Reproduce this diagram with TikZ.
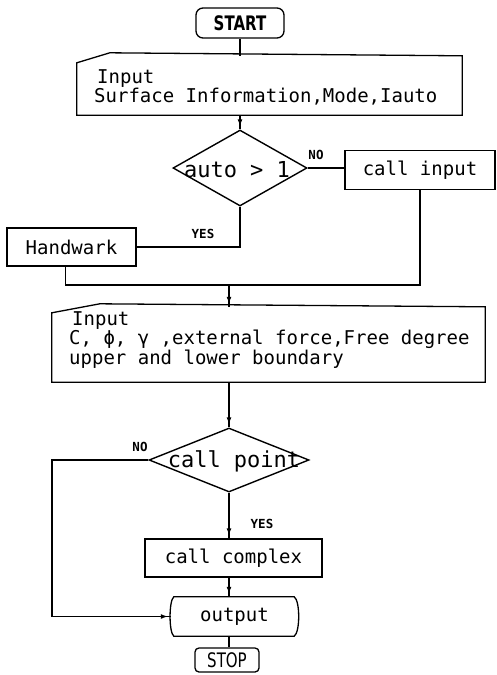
\documentclass[tikz,border=0pt]{standalone}
\usepackage{fontspec}
\setmonofont{DejaVu Sans Mono}
\newfontfamily\termfont[FakeStretch=0.75]{DejaVu Sans}
\usetikzlibrary{shapes.geometric,arrows.meta,decorations.markings,calc}
\newcommand\mytxt{\ttfamily\fontsize{19}{19.5}\selectfont}
\newcommand\dtxt{\ttfamily\fontsize{22}{22}\selectfont}
\newcommand\lbltxt{\ttfamily\bfseries\fontsize{12.5}{13}\selectfont}
\begin{document}
\begin{tikzpicture}[x=1pt,y=-1pt,
  line/.style={line width=1.3pt},
  arr/.style={line, postaction={decorate},
    decoration={markings, mark=at position -3pt with {\arrow{Latex[length=7pt,width=5pt]}}}},
  box/.style={draw, line width=1.3pt, rectangle, inner sep=0pt, font=\mytxt},
  termbox/.style={draw, line width=1.3pt, rectangle, inner sep=0pt},
  shell/.style={draw=none, rectangle, inner sep=0pt},
  dia/.style={draw, line width=1.4pt, diamond, inner sep=0pt},
  txtnode/.style={inner sep=0pt, font=\mytxt, align=left, anchor=north west},
  lbl/.style={inner sep=0pt, font=\lbltxt}]
\useasboundingbox (0,0) rectangle (496,675);

% START
\node[termbox, rounded corners=7pt, minimum width=88pt, minimum height=30pt,
      font=\termfont\bfseries\fontsize{20}{20}\selectfont] (start) at (240,23) {START};

% Input 1
\node[shell, minimum width=385pt, minimum height=59pt] (in1) at (269.5,85.5) {};
\draw[line] ($(in1.north west)+(0,7)$) -- ($(in1.north west)+(33,-3)$) -- (in1.north east)
  -- (in1.south east) -- (in1.south west) -- cycle;
\node[txtnode] (in1t) at (94,69) {\hspace*{3pt}Input\\Surface Information,Mode,Iauto};

% decision 1
\node[dia, aspect=1.76, minimum width=134pt, minimum height=76pt] (d1) at (240,168) {};
\node[inner sep=0pt, font=\dtxt] (d1t) at (237,170) {auto > 1};

\node[box, minimum width=150pt, minimum height=39pt] (cin) at (420,170) {call input};
\node[box, minimum width=129pt, minimum height=38pt] (hw) at (71.5,247) {Handwark};

\coordinate (m) at (229,285);

% Input 2
\node[shell, minimum width=433pt, minimum height=75pt] (in2) at (268.5,344.5) {};
\draw[line] ($(in2.north west)+(0,6)$) -- ($(in2.north west)+(48,-3)$) -- (in2.north east)
  -- (in2.south east) -- (in2.south west) -- cycle;
\node[txtnode] (in2t) at (69,311) {\hspace*{3pt}Input\\C, ϕ, γ ,external force,Free degree\\upper and lower boundary};

% decision 2
\node[dia, aspect=2.5, minimum width=160pt, minimum height=64pt] (d2) at (229,460) {};
\node[inner sep=0pt, font=\dtxt] (d2t) at (234,461) {call point};

\node[box, minimum width=177pt, minimum height=38pt] (cc) at (233.5,558) {call complex};

% output
\node[shell, minimum width=127pt, minimum height=39pt, font=\mytxt] (out) at (234.5,616.5) {output};
\draw[line] ($(out.north west)+(3,0)$) -- ($(out.north east)+(-4,0)$)
  .. controls ($(out.north east)+(2,4)$) and ($(out.south east)+(2,-4)$) .. ($(out.south east)+(-4,0)$)
  -- ($(out.south west)+(3,0)$)
  .. controls ($(out.south west)+(-2,-4)$) and ($(out.north west)+(-2,4)$) .. cycle;

% STOP
\node[termbox, rounded corners=4pt, minimum width=64pt, minimum height=24pt,
      font=\termfont\fontsize{20}{20}\selectfont] (stop) at (227,660) {STOP};

\coordinate (lp) at (52,460);

% connectors
\draw[line] (start.south) -- (start.south |- in1.north);
\draw[arr] (d1.north |- in1.south) -- (d1.north);
\draw[line] (d1.east) -- (cin.west |- d1.east);
\draw[line] (d1.south) |- (hw.east);
\draw[line] ([xshift=-6pt]hw.south) |- (m) -| (cin.south);
\draw[arr] (m) -- (m |- in2.north);
\draw[arr] (d2.north |- in2.south) -- (d2.north);
\draw[arr] (d2.south) -- (d2.south |- cc.north);
\draw[arr] (d2.south |- cc.south) -- (d2.south |- out.north);
\draw[line] (d2.south |- out.south) -- (d2.south |- stop.north);
\draw[arr] (d2.west) -- (lp) |- (out.west);

% labels
\node[lbl] (no1) at (316,155) {NO};
\node[lbl] (yes1) at (203,234) {YES};
\node[lbl] (no2) at (140,447) {NO};
\node[lbl] (yes2) at (262,524) {YES};
\end{tikzpicture}
\end{document}
